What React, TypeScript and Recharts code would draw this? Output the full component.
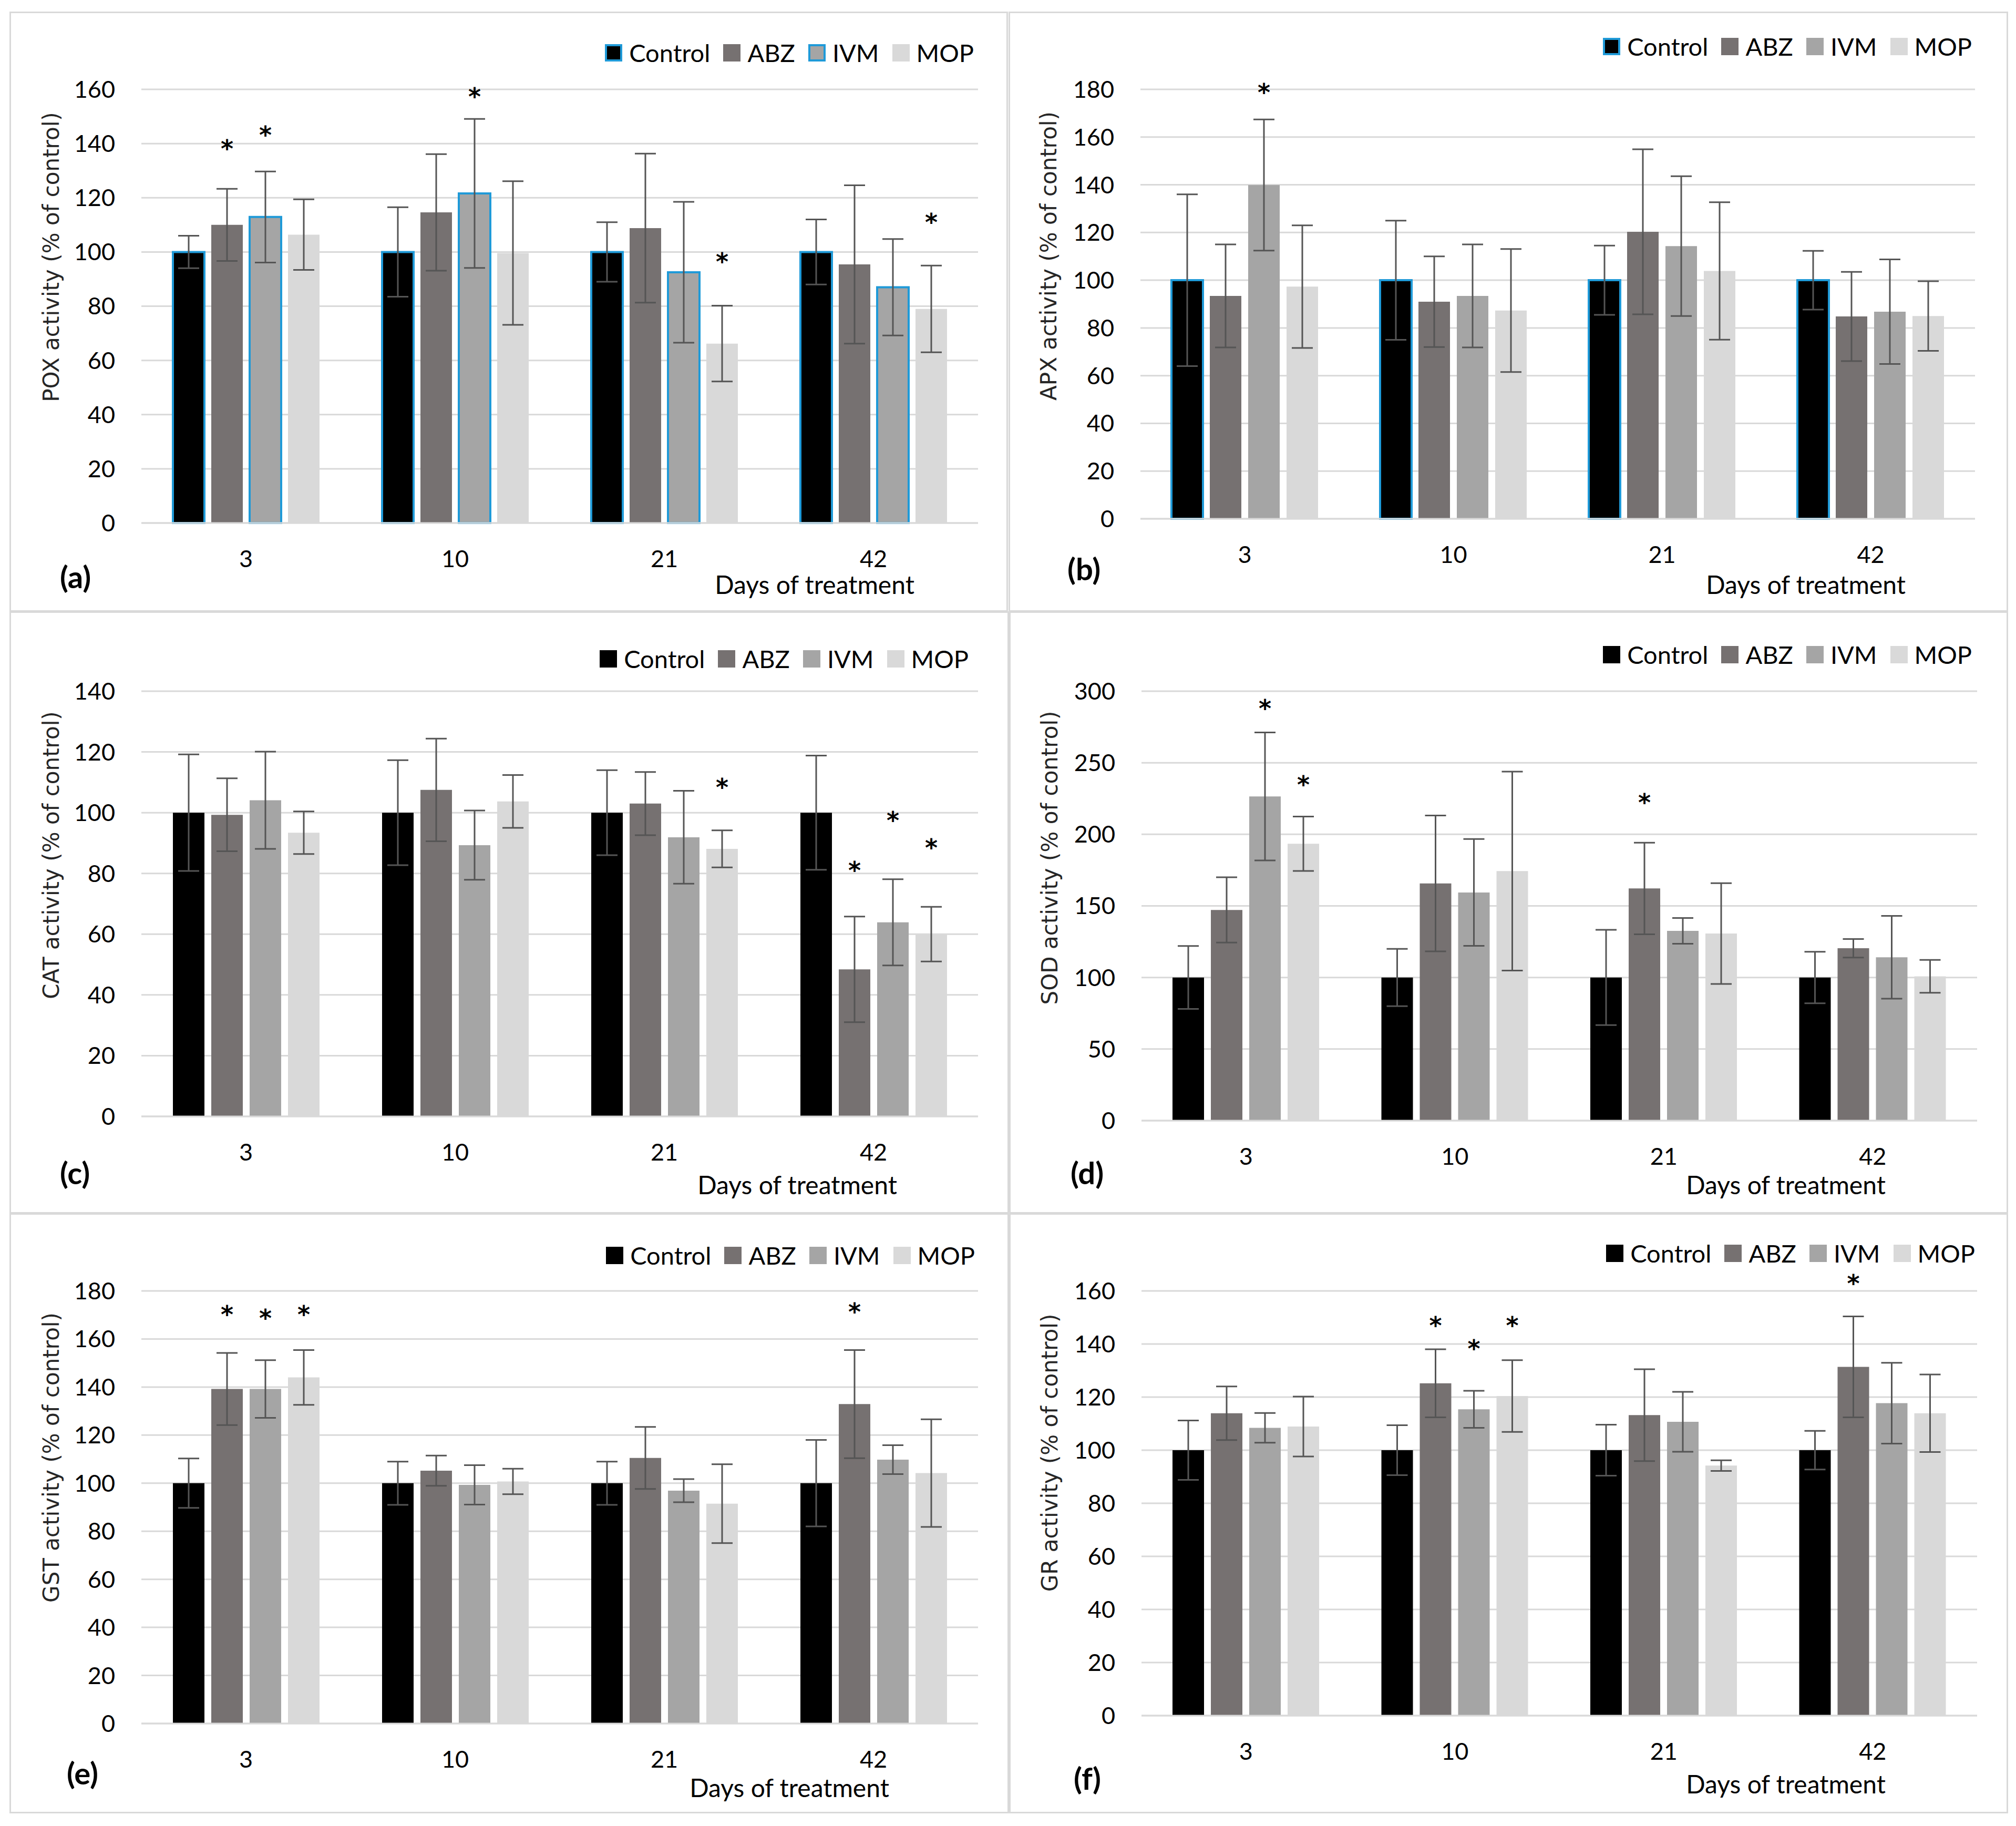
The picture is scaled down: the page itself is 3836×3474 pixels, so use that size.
import React from "react";
import { Bar, BarChart, CartesianGrid, ErrorBar, LabelList, Legend, XAxis, YAxis } from "recharts";

const DAYS = ["3", "10", "21", "42"];
const SERIES = ["Control", "ABZ", "IVM", "MOP"];
const KEYS = ["control", "abz", "ivm", "mop"];
const COLORS = ["#000000", "#767171", "#a5a5a5", "#d9d9d9"];

// POX (a)
const POX_MEAN = [
  [100, 100, 100, 100],
  [110, 114.6, 108.8, 95.4],
  [112.9, 121.6, 92.5, 87],
  [106.4, 99.6, 66.2, 79],
];
const POX_ERR = [
  [6, 16.5, 11, 12],
  [13.3, 21.5, 27.5, 29.2],
  [16.8, 27.5, 26, 17.8],
  [13, 26.5, 14, 16],
];
const POX_STAR = [
  [null, null, null, null],
  [139.7, null, null, null],
  [144.8, 159, null, null],
  [null, null, 98, 112.6],
];
const POX_TICKS = [0, 20, 40, 60, 80, 100, 120, 140, 160];

// APX (b)
const APX_MEAN = [
  [100, 100, 100, 100],
  [93.4, 91, 120.3, 84.8],
  [139.9, 93.4, 114.3, 86.8],
  [97.3, 87.3, 103.9, 85],
];
const APX_ERR = [
  [36, 25, 14.5, 12.3],
  [21.6, 19, 34.6, 18.7],
  [27.5, 21.6, 29.3, 21.9],
  [25.7, 25.8, 28.8, 14.6],
];
const APX_STAR = [
  [null, null, null, null],
  [null, null, null, null],
  [180.5, null, null, null],
  [null, null, null, null],
];
const APX_TICKS = [0, 20, 40, 60, 80, 100, 120, 140, 160, 180];

// CAT (c)
const CAT_MEAN = [
  [100, 100, 100, 100],
  [99.3, 107.5, 103, 48.4],
  [104.1, 89.3, 91.9, 63.9],
  [93.4, 103.7, 88.1, 60],
];
const CAT_ERR = [
  [19.2, 17.3, 14, 18.8],
  [12, 16.9, 10.4, 17.4],
  [16, 11.4, 15.3, 14.2],
  [7, 8.7, 6.1, 9],
];
const CAT_STAR = [
  [null, null, null, null],
  [null, null, null, 82.4],
  [null, null, null, 98.9],
  [null, null, 109.7, 89.8],
];
const CAT_TICKS = [0, 20, 40, 60, 80, 100, 120, 140];

// SOD (d)
const SOD_MEAN = [
  [100, 100, 100, 100],
  [147.2, 165.7, 162.2, 120.4],
  [226.5, 159.4, 132.6, 114.1],
  [193.4, 174.3, 130.7, 100.8],
];
const SOD_ERR = [
  [22, 20, 33.3, 18],
  [22.8, 47.5, 32, 6.5],
  [44.7, 37.3, 9, 28.9],
  [19, 69.5, 35.2, 11.5],
];
const SOD_STAR = [
  [null, null, null, null],
  [null, null, 225.1, null],
  [290.9, null, null, null],
  [237.6, null, null, null],
];
const SOD_TICKS = [0, 50, 100, 150, 200, 250, 300];

// GST (e)
const GST_MEAN = [
  [100, 100, 100, 100],
  [139.2, 105.2, 110.5, 132.9],
  [139.2, 99.3, 96.9, 109.8],
  [144, 100.7, 91.5, 104.2],
];
const GST_ERR = [
  [10.3, 9, 9, 18],
  [15, 6.3, 12.9, 22.5],
  [12, 8.2, 4.8, 6],
  [11.4, 5.3, 16.4, 22.4],
];
const GST_STAR = [
  [null, null, null, null],
  [172, null, null, 173],
  [170.4, null, null, null],
  [172, null, null, null],
];
const GST_TICKS = [0, 20, 40, 60, 80, 100, 120, 140, 160, 180];

// GR (f)
const GR_MEAN = [
  [100, 100, 100, 100],
  [113.9, 125.2, 113.2, 131.4],
  [108.4, 115.4, 110.7, 117.7],
  [108.9, 120.4, 94.2, 113.9],
];
const GR_ERR = [
  [11.2, 9.4, 9.6, 7.3],
  [10.1, 12.8, 17.3, 19],
  [5.6, 7, 11.3, 15.2],
  [11.3, 13.5, 2, 14.6],
];
const GR_STAR = [
  [null, null, null, null],
  [null, 148.5, null, 164.5],
  [null, 139.8, null, null],
  [null, 148.5, null, null],
];
const GR_TICKS = [0, 20, 40, 60, 80, 100, 120, 140, 160];

const FONT = "Lato, 'Liberation Sans', sans-serif";
const LABEL_FONT = "'DejaVu Sans', sans-serif";
const BLUE = "#1f9ad8";
const GRID = "#d9d9d9";

// layout: box = [left, top, width, height], plot = [left, top, right, bottom] (page px)
const PANELS = [
  {
    letter: "(a)", ylabel: "POX activity (% of control)", mean: POX_MEAN, err: POX_ERR, star: POX_STAR, ticks: POX_TICKS,
    outlined: ["control", "ivm"], box: [18, 22, 1900, 1142], plot: [269, 170, 1861, 995],
    legend: [1835, 78], days: [1532, 1090], letterPos: [96, 1075], ylab: [80, 467],
  },
  {
    letter: "(b)", ylabel: "APX activity (% of control)", mean: APX_MEAN, err: APX_ERR, star: APX_STAR, ticks: APX_TICKS,
    outlined: ["control"], box: [1919, 22, 1902, 1142], plot: [2170, 170, 3758, 987],
    legend: [1833, 66], days: [1517, 1090], letterPos: [112, 1060], ylab: [77, 465],
  },
  {
    letter: "(c)", ylabel: "CAT activity (% of control)", mean: CAT_MEAN, err: CAT_ERR, star: CAT_STAR, ticks: CAT_TICKS,
    outlined: [], box: [18, 1163, 1902, 1146], plot: [269, 1315, 1861, 2124],
    legend: [1825, 90], days: [1499, 1091], letterPos: [96, 1068], ylab: [80, 464],
  },
  {
    letter: "(d)", ylabel: "SOD activity (% of control)", mean: SOD_MEAN, err: SOD_ERR, star: SOD_STAR, ticks: SOD_TICKS,
    outlined: [], box: [1920, 1163, 1901, 1146], plot: [2172, 1315, 3762, 2132],
    legend: [1832, 82], days: [1478, 1091], letterPos: [117, 1068], ylab: [78, 469],
  },
  {
    letter: "(e)", ylabel: "GST activity (% of control)", mean: GST_MEAN, err: GST_ERR, star: GST_STAR, ticks: GST_TICKS,
    outlined: [], box: [18, 2308, 1902, 1142], plot: [269, 2456, 1861, 3279],
    legend: [1837, 80], days: [1484, 1093], letterPos: [109, 1065], ylab: [80, 465],
  },
  {
    letter: "(f)", ylabel: "GR activity (% of control)", mean: GR_MEAN, err: GR_ERR, star: GR_STAR, ticks: GR_TICKS,
    outlined: [], box: [1920, 2308, 1901, 1142], plot: [2172, 2456, 3762, 3264],
    legend: [1838, 76], days: [1478, 1086], letterPos: [123, 1075], ylab: [78, 456],
  },
];

const YAXIS_W = 200;
const XAXIS_H = 100;
const STAR_SIZE = 46;

function Panel({ p }: { p: any }) {
  const [bl, bt, bw, bh] = p.box;
  const [pl, pt, pr, pb] = p.plot;
  const rows = DAYS.map((d, i) => {
    const r: any = { day: d };
    KEYS.forEach((k, s) => {
      r[k] = p.mean[s][i];
      r[k + "Err"] = p.err[s][i];
      r[k + "Star"] = p.star[s][i];
    });
    return r;
  });

  const starContent = (key: string) => (props: any) => {
    const vb = props.viewBox || props;
    const row = rows[props.index];
    if (!row || row[key + "Star"] == null) return null;
    const base = vb.y + vb.height;
    const py = base - (row[key + "Star"] * vb.height) / row[key];
    return (
      <text
        x={vb.x + vb.width / 2}
        y={py + STAR_SIZE * 0.53}
        textAnchor="middle"
        fontSize={STAR_SIZE}
        fontWeight={700}
        fontFamily={LABEL_FONT}
        fill="#000"
      >
        *
      </text>
    );
  };

  const legendContent = () => (
    <div style={{ display: "flex", justifyContent: "flex-end", alignItems: "center", fontFamily: FONT, fontSize: 47, color: "#000" }}>
      {SERIES.map((name, s) => {
        const out = p.outlined.includes(KEYS[s]);
        return (
          <div key={name} style={{ display: "flex", alignItems: "center", marginLeft: s === 0 ? 0 : 25 }}>
            <div
              style={{
                width: 33, height: 33, boxSizing: "border-box", background: COLORS[s],
                border: out ? `4px solid ${BLUE}` : "none", marginRight: 13,
              }}
            />
            <span style={{ lineHeight: "50px" }}>{name}</span>
          </div>
        );
      })}
    </div>
  );

  return (
    <div style={{ position: "absolute", left: bl, top: bt, width: bw, height: bh }}>
      <div style={{ position: "absolute", inset: 0, border: `3px solid ${GRID}`, boxSizing: "border-box" }} />
      <div style={{ position: "absolute", left: 0, top: 0 }}>
        <BarChart
          width={bw}
          height={bh}
          data={rows}
          barGap={13}
          margin={{ top: pt - bt, left: pl - bl - YAXIS_W, right: bl + bw - pr, bottom: bt + bh - pb - XAXIS_H }}
        >
          <CartesianGrid vertical={false} stroke={GRID} strokeWidth={3} />
          <XAxis
            dataKey="day"
            height={XAXIS_H}
            tickLine={false}
            tickSize={0}
            tickMargin={52}
            axisLine={{ stroke: GRID, strokeWidth: 3 }}
            tick={{ fontSize: 45, fill: "#000", fontFamily: FONT }}
          />
          <YAxis
            width={YAXIS_W}
            domain={[0, p.ticks[p.ticks.length - 1]]}
            ticks={p.ticks}
            interval={0}
            tickLine={false}
            axisLine={false}
            tickSize={0}
            tickMargin={50}
            tick={{ fontSize: 45, fill: "#000", fontFamily: FONT }}
          />
          <Legend
            layout="horizontal"
            verticalAlign="middle"
            align="center"
            content={legendContent}
            wrapperStyle={{ top: p.legend[1] - 25, left: 0, width: p.legend[0], height: 50 }}
          />
          {KEYS.map((k, s) => {
            const out = p.outlined.includes(k);
            return (
              <Bar
                key={k}
                dataKey={k}
                name={SERIES[s]}
                fill={COLORS[s]}
                stroke={out ? BLUE : "none"}
                strokeWidth={out ? 4 : 0}
                barSize={60}
                isAnimationActive={false}
              >
                <ErrorBar dataKey={k + "Err"} width={20} stroke="#555555" strokeWidth={3} direction="y" />
                <LabelList dataKey={k} content={starContent(k)} />
              </Bar>
            );
          })}
        </BarChart>
      </div>
      <div
        style={{
          position: "absolute", left: p.ylab[0], top: p.ylab[1], transform: "translate(-50%, -50%) rotate(-90deg)",
          whiteSpace: "nowrap", fontFamily: LABEL_FONT, fontSize: 42, color: "#262626", lineHeight: "50px",
        }}
      >
        {p.ylabel}
      </div>
      <div
        style={{
          position: "absolute", left: p.days[0], top: p.days[1], transform: "translate(-50%, -50%)",
          whiteSpace: "nowrap", fontFamily: FONT, fontSize: 48, color: "#000", lineHeight: "56px",
        }}
      >
        Days of treatment
      </div>
      <div
        style={{
          position: "absolute", left: p.letterPos[0], top: p.letterPos[1], transform: "translateY(-50%)",
          whiteSpace: "nowrap", fontFamily: FONT, fontSize: 58, fontWeight: 700, color: "#000", lineHeight: "66px",
        }}
      >
        {p.letter}
      </div>
    </div>
  );
}

export default function App() {
  return (
    <div style={{ position: "absolute", left: 0, top: 0, width: 3836, height: 3474, background: "#fff", overflow: "hidden" }}>
      {PANELS.map((p) => (
        <Panel key={p.letter} p={p} />
      ))}
    </div>
  );
}
